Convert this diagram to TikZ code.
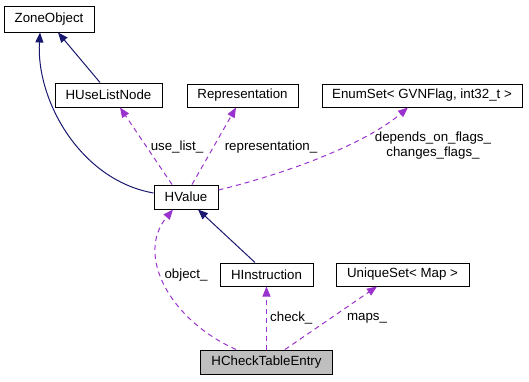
\documentclass[tikz,border=0pt]{standalone}
\usepackage{fontspec}
\setmainfont{Liberation Sans}
\usetikzlibrary{arrows.meta}
\definecolor{inherit}{HTML}{191970}
\definecolor{usage}{HTML}{9A32CD}
\definecolor{current}{HTML}{BFBFBF}
\begin{document}
\begin{tikzpicture}[x=1pt,y=-1pt,
  font=\fontsize{13.3}{15}\selectfont,
  cls/.style={draw=black, line width=1pt, fill=white, inner sep=0pt, minimum height=24pt},
  isa/.style={draw=inherit, line width=1pt, -{Triangle[length=10pt,width=8pt]}},
  uses/.style={draw=usage, line width=1pt, dash pattern=on 5pt off 4pt, -{Triangle[length=10pt,width=8pt]}},
  lbl/.style={inner sep=0pt, align=center}]
\useasboundingbox (0,0) rectangle (529,381);

% classes
\node[cls, minimum width=90pt, minimum height=26pt] (zone) at (49,19) {ZoneObject};
\node[cls, minimum width=107pt] (ulnode) at (108.5,95) {HUseListNode};
\node[cls, minimum width=111pt, minimum height=23pt] (repr) at (242.5,95.5) {Representation};
\node[cls, minimum width=200pt, minimum height=23pt] (enumset) at (422,95.5) {EnumSet< GVNFlag, int32\_t >};
\node[cls, minimum width=64pt] (hvalue) at (186,197) {HValue};
\node[cls, minimum width=93pt, minimum height=23pt] (hinstr) at (266.5,274.5) {HInstruction};
\node[cls, minimum width=133pt, minimum height=23pt] (uset) at (402.5,274.5) {UniqueSet< Map >};
\node[cls, fill=current, minimum width=132pt] (entry) at (266.5,362) {HCheckTableEntry};

% inheritance
\draw[isa] ([yshift=4pt]hvalue.west) .. controls (80,180) and (36,100) .. ([xshift=-9pt]zone.south);
\draw[isa] ([xshift=-8.5pt]ulnode.north) -- ([xshift=9pt]zone.south);
\draw[isa] ([xshift=-11.5pt]hinstr.north) -- ([xshift=12pt]hvalue.south);

% members
\draw[uses] ([xshift=-14pt]hvalue.north) -- ([xshift=11.5pt]ulnode.south);
\draw[uses] ([xshift=6pt]hvalue.north) -- ([xshift=-6.5pt]repr.south);
\draw[uses] ([yshift=7pt]hvalue.east) .. controls (300,170) and (370,140) .. ([xshift=-14pt]enumset.south);
\draw[uses] ([xshift=-30.5pt]entry.north) .. controls (170,320) and (135,255) .. ([xshift=-13pt]hvalue.south);
\draw[uses] (entry.north) -- (hinstr.south);
\draw[uses] ([xshift=18.5pt]entry.north) -- ([xshift=-25.5pt]uset.south);

% member labels
\node[lbl] (l1) at (177,147) {use\_list\_};
\node[lbl] (l2) at (271,147) {representation\_};
\node[lbl] (l3) at (433,146) {depends\_on\_flags\_\\changes\_flags\_};
\node[lbl] (l4) at (186,275) {object\_};
\node[lbl, anchor=west] (l5) at (270,318) {check\_};
\node[lbl] (l6) at (367,318) {maps\_};
\end{tikzpicture}
\end{document}
